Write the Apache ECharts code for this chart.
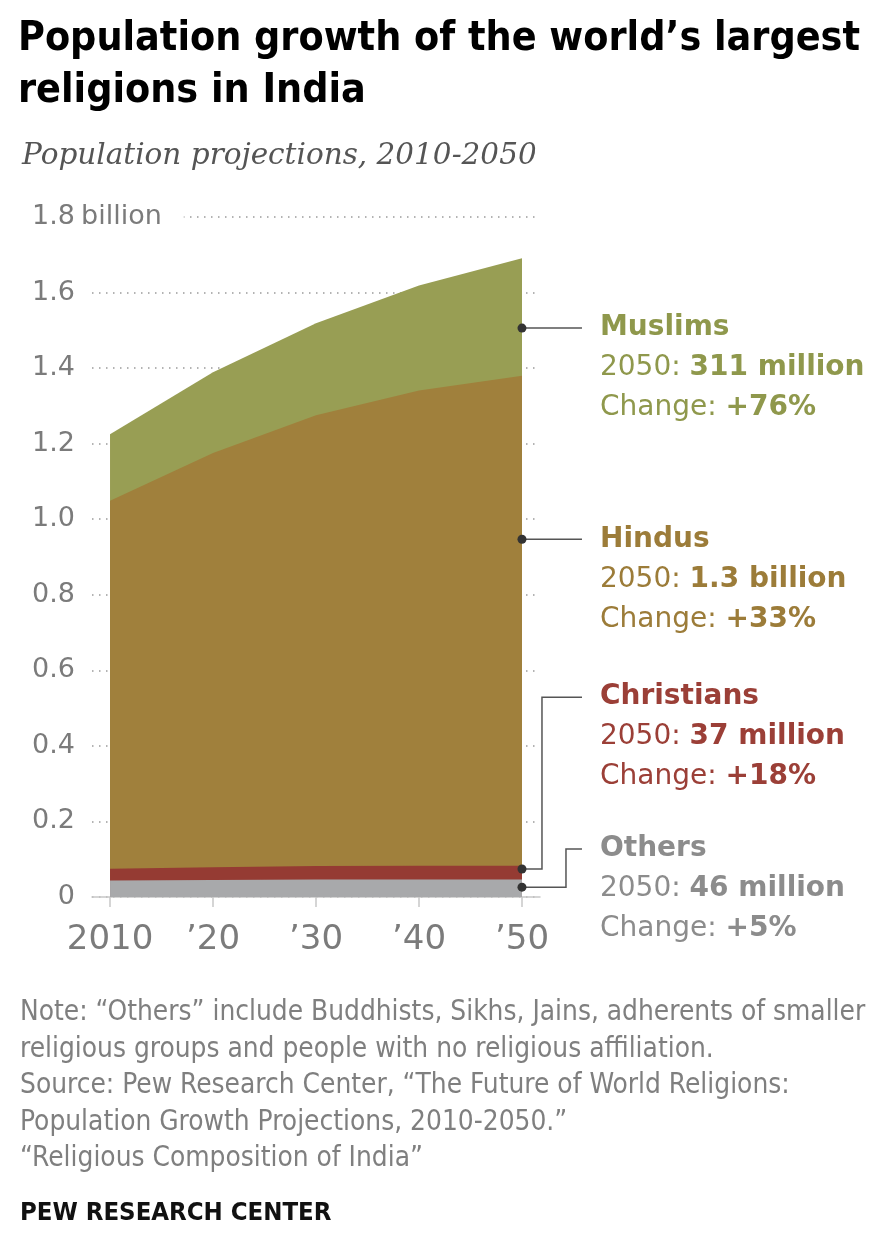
<!DOCTYPE html>
<html>
<head>
<meta charset="utf-8">
<script src="https://cdn.jsdelivr.net/npm/echarts@6/dist/echarts.min.js"></script>
<style>
  html, body { margin: 0; padding: 0; background: #fff; }
  #chart { width: 886px; height: 1238px; }
</style>
</head>
<body>
<div id="chart"></div>
<script>
'use strict';

// population in billions, India, 2010-2050
let years = [2010, 2020, 2030, 2040, 2050];
let others = [0.044, 0.045, 0.046, 0.046, 0.046];
let christians = [0.031, 0.034, 0.036, 0.037, 0.037];
let hindus = [0.974, 1.096, 1.193, 1.258, 1.297];
let muslims = [0.176, 0.214, 0.244, 0.278, 0.311];
let yearLabels = ['2010', '\u201920', '\u201930', '\u201940', '\u201950'];

let sans = '"DejaVu Sans", "Liberation Sans", sans-serif';
let narrow = '"DejaVu Sans Condensed", "Liberation Sans Narrow", "Liberation Sans", sans-serif';

let colors = {
    Others: '#a8a9ab',
    Christians: '#953b33',
    Hindus: '#a0803c',
    Muslims: '#989e54'
};
let textColors = {
    Others: '#8c8c8c',
    Christians: '#9b3f37',
    Hindus: '#9c7c39',
    Muslims: '#8f984c'
};

// bottom-up stacking order; value axes on both sides, so the running
// totals are worked out here and each area is filled down to zero
let layers = [
    { name: 'Others', vals: others },
    { name: 'Christians', vals: christians },
    { name: 'Hindus', vals: hindus },
    { name: 'Muslims', vals: muslims }
];
let running = years.map(function(){ return 0; });
layers.forEach(function(l){
    running = running.map(function(s, i){ return s + l.vals[i]; });
    l.top = running.slice();
});

let makeSeries = function(l, idx){
    return {
        name: l.name,
        type: 'line',
        data: l.top.map(function(v, i){ return [years[i], v]; }),
        showSymbol: false,
        symbol: 'none',
        lineStyle: { width: 0 },
        areaStyle: { color: colors[l.name], opacity: 1, origin: 0 },
        itemStyle: { color: colors[l.name] },
        silent: true,
        z: 3,
        // upper layers drawn first, lower ones on top of them
        z2: idx
    };
};

let myChart = echarts.init(document.getElementById('chart'));

let option = {
    animation: false,
    backgroundColor: '#fff',
    grid: { left: 92, right: 346, top: 217, bottom: 341, containLabel: false },
    xAxis: {
        type: 'value',
        min: 2008.25,
        max: 2051.75,
        axisLine: { show: true, lineStyle: { color: '#c8c8c8', width: 1.5 } },
        axisTick: { show: true, length: 10, lineStyle: { color: '#c8c8c8', width: 1.5 }, customValues: years },
        axisLabel: {
            customValues: years,
            margin: 26,
            color: '#7b7b7b',
            fontFamily: sans,
            fontSize: 34,
            formatter: function(v){ return yearLabels[years.indexOf(v)]; }
        },
        splitLine: { show: false }
    },
    yAxis: {
        type: 'value',
        min: 0,
        max: 1.8,
        interval: 0.2,
        axisLine: { show: false },
        axisTick: { show: false },
        axisLabel: {
            margin: 17,
            color: '#7b7b7b',
            fontFamily: sans,
            fontSize: 27,
            formatter: function(v){
                if (v === 0) return '0';
                return v.toFixed(1);
            }
        },
        splitLine: { show: true, lineStyle: { color: '#9a9a9a', width: 1.5, type: [1.5, 5.5] } }
    },
    series: layers.slice().reverse().map(makeSeries)
};
myChart.setOption(option);

// annotations on the right
let px = function(x, y){ return myChart.convertToPixel({ gridIndex: 0 }, [x, y]); };

let notes = [
    { name: 'Muslims', amount: '311 million', change: '+76%', anchor: 1.506, label: 1.506, elbow: 0 },
    { name: 'Hindus', amount: '1.3 billion', change: '+33%', anchor: 0.947, label: 0.947, elbow: 0 },
    { name: 'Christians', amount: '37 million', change: '+18%', anchor: 0.074, label: 0.529, elbow: 20 },
    { name: 'Others', amount: '46 million', change: '+5%', anchor: 0.026, label: 0.127, elbow: 44 }
];

let graphics = [];
notes.forEach(function(n){
    let dot = px(2050, n.anchor);
    let lab = px(2050, n.label);
    let endX = dot[0] + 60;
    let pts;
    if (n.elbow) {
        pts = [[dot[0], dot[1]], [dot[0] + n.elbow, dot[1]], [dot[0] + n.elbow, lab[1]], [endX, lab[1]]];
    } else {
        pts = [[dot[0], dot[1]], [endX, dot[1]]];
    }
    graphics.push({
        type: 'polyline', z: 10,
        shape: { points: pts },
        style: { stroke: '#555', lineWidth: 1.5, fill: null }
    });
    graphics.push({
        type: 'circle', z: 11,
        shape: { cx: dot[0], cy: dot[1], r: 4.5 },
        style: { fill: '#333' }
    });
    let c = textColors[n.name];
    graphics.push({
        type: 'text', z: 11,
        x: dot[0] + 78, y: lab[1] - 20,
        style: {
            text: '{t|' + n.name + '}\n{r|2050: }{b|' + n.amount + '}\n{r|Change: }{b|' + n.change + '}',
            fontFamily: sans,
            verticalAlign: 'top',
            fill: c,
            rich: {
                t: { fontSize: 28, fontWeight: 'bold', fill: c, lineHeight: 40, fontFamily: sans },
                r: { fontSize: 28, fill: c, lineHeight: 40, fontFamily: sans },
                b: { fontSize: 28, fontWeight: 'bold', fill: c, lineHeight: 40, fontFamily: sans }
            }
        }
    });
});

// "billion" after the top tick label, covering the start of its gridline
let top18 = px(2008.25, 1.8);
graphics.push({
    type: 'text', z: 5,
    x: top18[0] - 11, y: top18[1],
    style: {
        text: 'billion',
        fontFamily: sans, fontSize: 27, fill: '#7b7b7b',
        verticalAlign: 'middle',
        backgroundColor: '#fff',
        padding: [4, 22, 4, 0]
    }
});

// title, subtitle and notes
graphics.push({
    type: 'text', x: 18, y: 13,
    style: {
        text: 'Population growth of the world\u2019s largest\nreligions in India',
        fontFamily: narrow, fontWeight: 'bold', fontSize: 40.8, lineHeight: 52,
        fill: '#000', verticalAlign: 'top'
    }
});
graphics.push({
    type: 'text', x: 22, y: 141,
    style: {
        text: 'Population projections, 2010-2050',
        fontFamily: '"DejaVu Serif", "Liberation Serif", serif', fontStyle: 'italic', fontSize: 29.5,
        fill: '#555', verticalAlign: 'top'
    }
});
graphics.push({
    type: 'text', x: 20, y: 995,
    style: {
        text: 'Note: \u201cOthers\u201d include Buddhists, Sikhs, Jains, adherents of smaller\n' +
              'religious groups and people with no religious affiliation.\n' +
              'Source: Pew Research Center, \u201cThe Future of World Religions:\n' +
              'Population Growth Projections, 2010-2050.\u201d\n' +
              '\u201cReligious Composition of India\u201d',
        fontFamily: narrow, fontSize: 27.8, lineHeight: 36.5,
        fill: '#7f7f7f', verticalAlign: 'top'
    }
});
graphics.push({
    type: 'text', x: 20, y: 1200,
    style: {
        text: 'PEW RESEARCH CENTER',
        fontFamily: narrow, fontWeight: 'bold', fontSize: 25.5,
        fill: '#111', verticalAlign: 'top'
    }
});

myChart.setOption({ graphic: graphics });
</script>
</body>
</html>
